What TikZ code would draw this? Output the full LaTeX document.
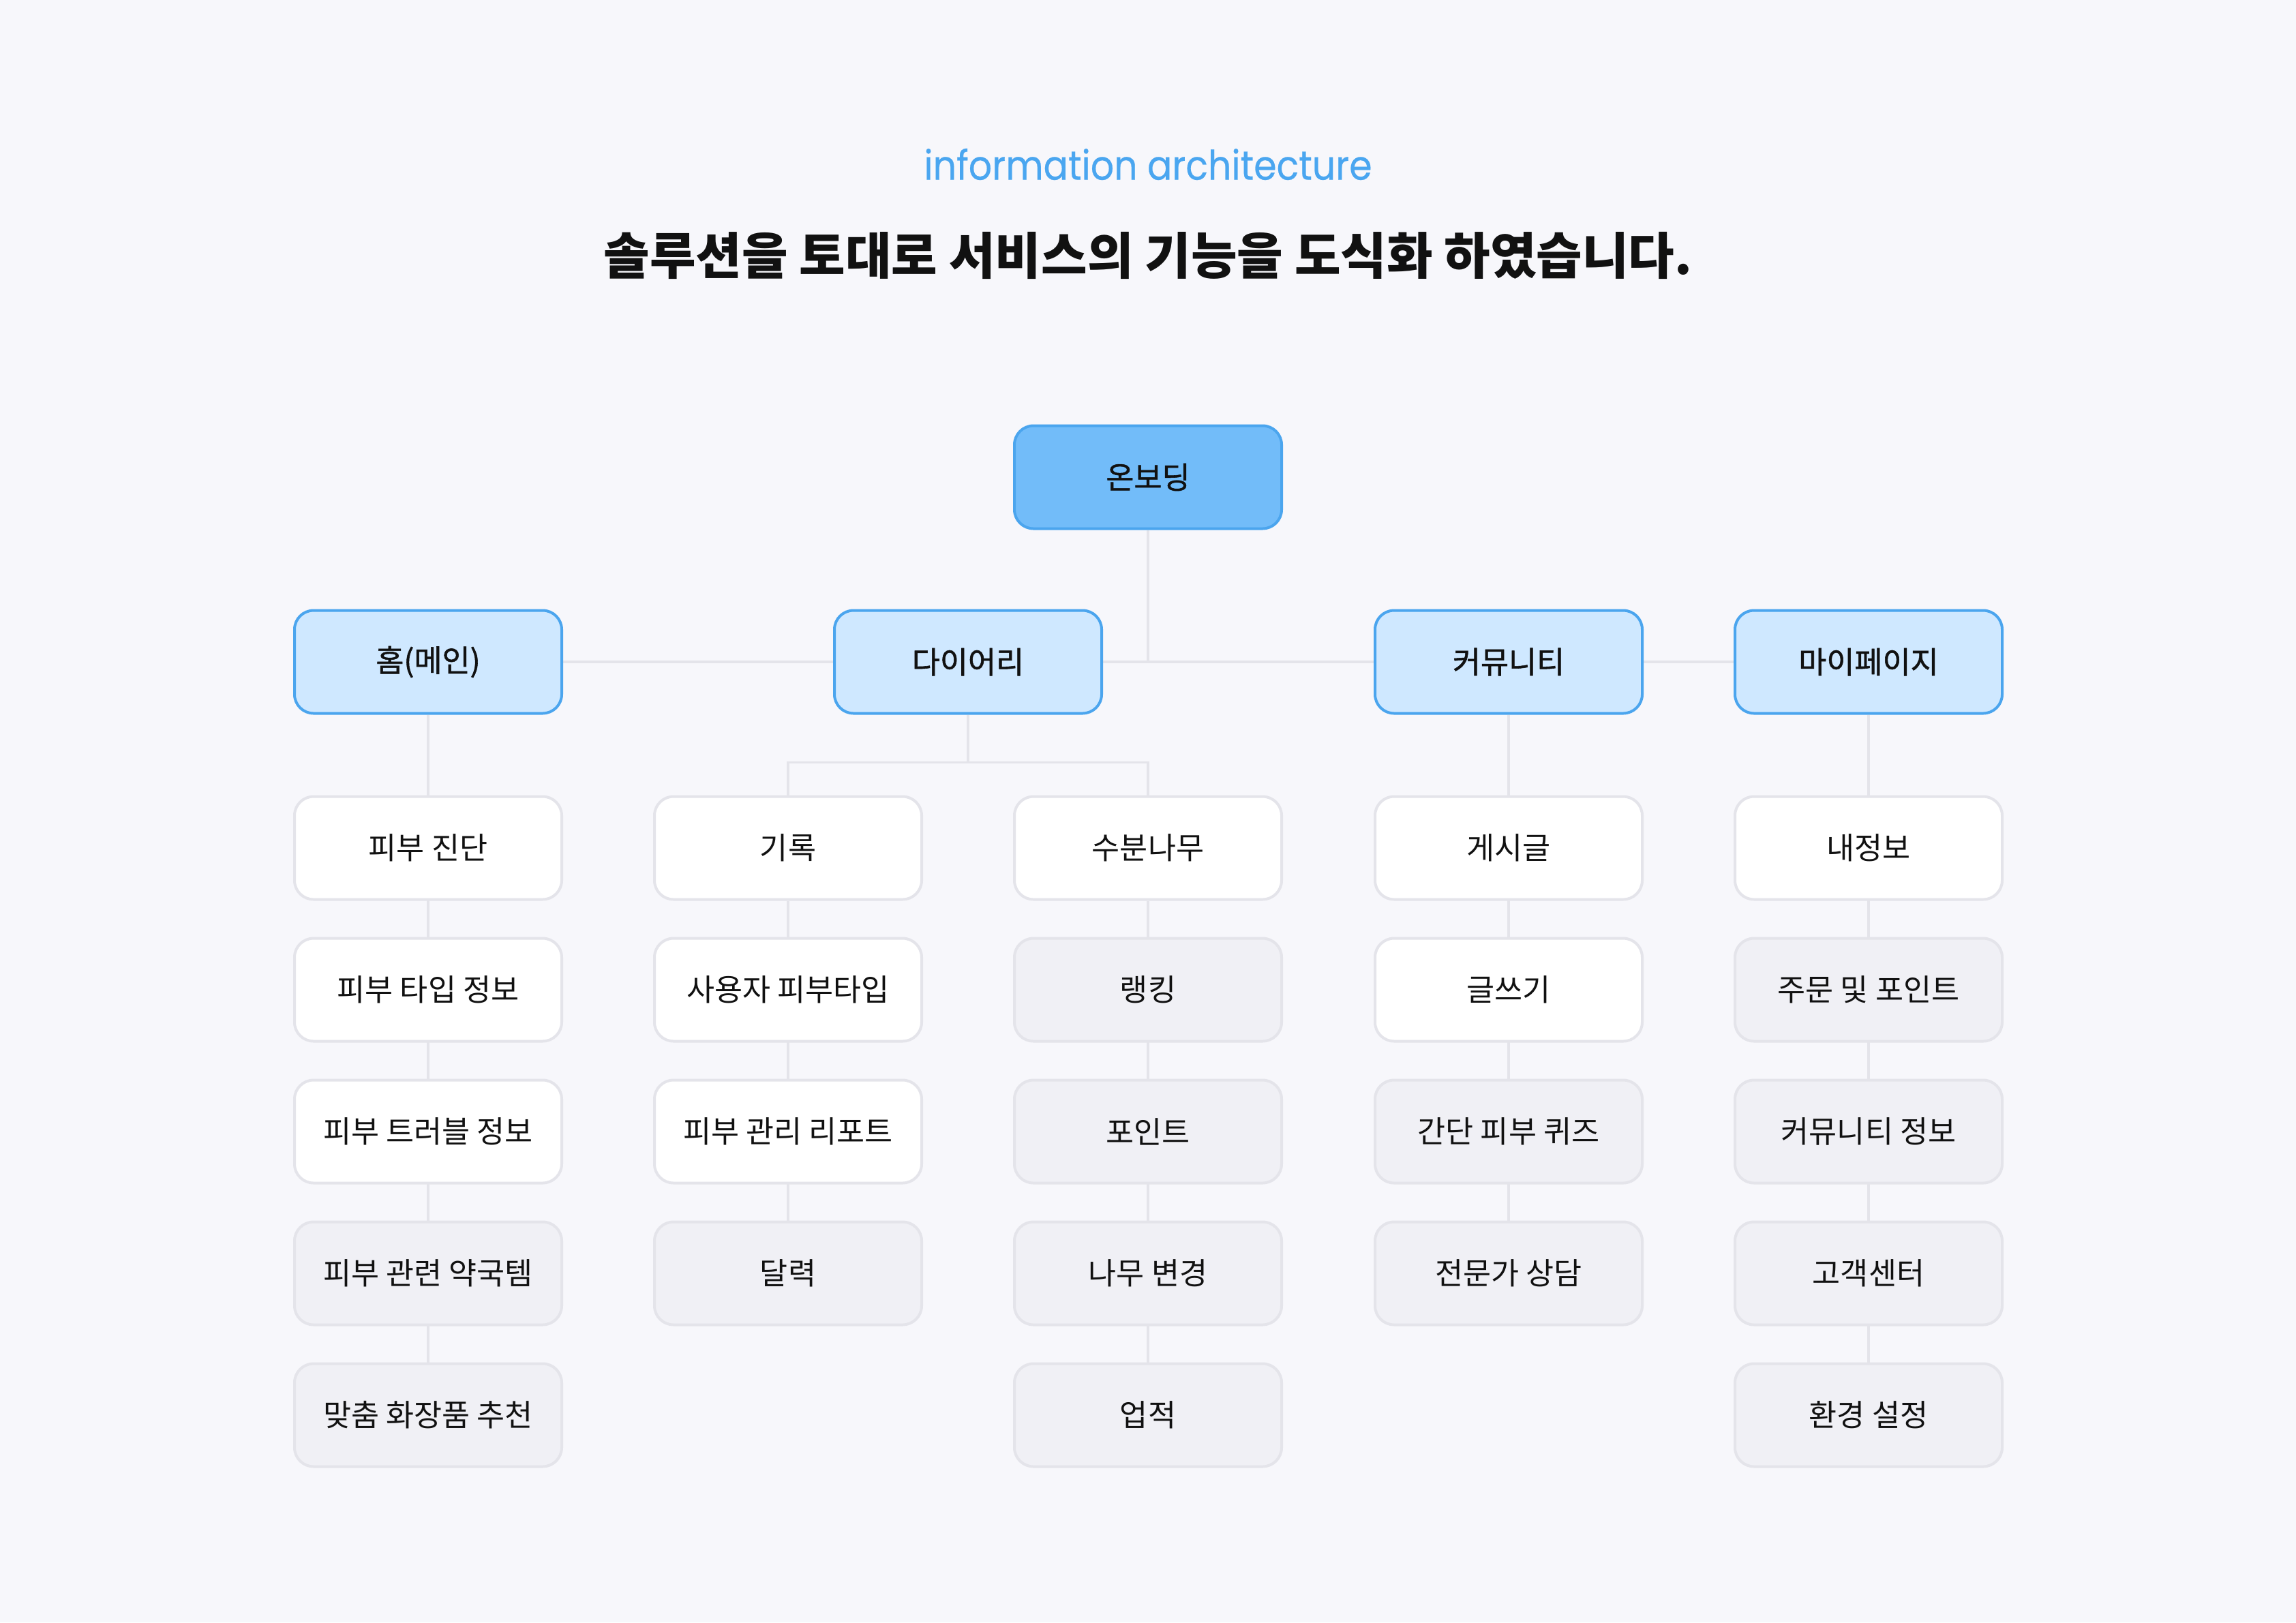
\documentclass[tikz,border=0pt]{standalone}
\usepackage{fontspec}
\setmainfont{Noto Sans CJK KR}
\newfontfamily\menufont{Noto Sans CJK KR}[FakeBold=1.2]
\newfontfamily\latinfont{Poppins}[FakeStretch=0.9, FakeBold=0.4]
\usetikzlibrary{positioning}
\pgfdeclarelayer{background}
\pgfsetlayers{background,main}

\begin{document}
\begin{tikzpicture}[node distance=0.53cm, font=\fontsize{12.7}{15}\selectfont, align=center, line width=0.04cm,
    box/.style={draw=linegray, rounded corners=0.28cm, minimum width=3.92cm, minimum height=1.51cm, inner sep=0pt, text=textblack},
    wbox/.style={box, fill=white},
    gbox/.style={box, fill=boxgray},
    menu/.style={box, draw=bluedge, fill=lightblue, font=\menufont\fontsize{12.7}{15}\selectfont},
    root/.style={menu, fill=midblue},
    link/.style={draw=linegray, line width=0.035cm}]
        % Define colors
        \definecolor{bgcol}{HTML}{F7F7FB}
        \definecolor{linegray}{HTML}{E4E4EA}
        \definecolor{boxgray}{HTML}{F0F0F5}
        \definecolor{lightblue}{HTML}{CFE8FF}
        \definecolor{midblue}{HTML}{72BCF9}
        \definecolor{bluedge}{HTML}{4BA5EE}
        \definecolor{titleblue}{HTML}{4AA6F0}
        \definecolor{textblack}{HTML}{111111}

        \useasboundingbox (0,0) rectangle (33.68,-23.80);

        % Titles
        \node[text=titleblue, font=\latinfont\fontsize{17}{20}\selectfont] (ia) at (16.84,-2.41) {information architecture};
        \node[text=textblack, font=\bfseries\fontsize{20.9}{24}\selectfont] (headline) at (16.84,-3.75) {솔루션을 토대로 서비스의 기능을 도식화 하였습니다.};

        % Nodes
        \node[root] (onb) at (16.84,-7.00) {온보딩};
        \node[menu] (home) at (6.28,-9.71) {홈(메인)};
        \node[menu] (diary) at (14.20,-9.71) {다이어리};
        \node[menu] (comm) at (22.13,-9.71) {커뮤니티};
        \node[menu] (mypage) at (27.41,-9.71) {마이페이지};

        \node[wbox, below=1.18cm of home] (home1) {피부 진단};
        \node[wbox, below=of home1] (home2) {피부 타입 정보};
        \node[wbox, below=of home2] (home3) {피부 트러블 정보};
        \node[gbox, below=of home3] (home4) {피부 관련 약국템};
        \node[gbox, below=of home4] (home5) {맞춤 화장품 추천};

        \node[wbox] (rec1) at (11.56,-12.44) {기록};
        \node[wbox, below=of rec1] (rec2) {사용자 피부타입};
        \node[wbox, below=of rec2] (rec3) {피부 관리 리포트};
        \node[gbox, below=of rec3] (rec4) {달력};

        \node[wbox] (tree1) at (16.84,-12.44) {수분나무};
        \node[gbox, below=of tree1] (tree2) {랭킹};
        \node[gbox, below=of tree2] (tree3) {포인트};
        \node[gbox, below=of tree3] (tree4) {나무 변경};
        \node[gbox, below=of tree4] (tree5) {업적};

        \node[wbox, below=1.18cm of comm] (post1) {게시글};
        \node[wbox, below=of post1] (post2) {글쓰기};
        \node[gbox, below=of post2] (post3) {간단 피부 퀴즈};
        \node[gbox, below=of post3] (post4) {전문가 상담};

        \node[wbox, below=1.18cm of mypage] (my1) {내정보};
        \node[gbox, below=of my1] (my2) {주문 및 포인트};
        \node[gbox, below=of my2] (my3) {커뮤니티 정보};
        \node[gbox, below=of my3] (my4) {고객센터};
        \node[gbox, below=of my4] (my5) {환경 설정};

        \coordinate[below=0.70cm of diary.south] (fork);
        \coordinate (hub) at (onb |- diary);

        % Edges
        \begin{pgfonlayer}{background}
            \fill[bgcol] (0,0) rectangle (33.68,-23.80);
            \draw[link] (home) -- (mypage);
            \draw[link] (onb) -- (hub);
            \draw[link] (diary) -- (fork);
            \draw[link] (fork) -| (rec1);
            \draw[link] (fork) -| (tree1);
            \draw[link] (home) -- (home5);
            \draw[link] (rec1) -- (rec4);
            \draw[link] (tree1) -- (tree5);
            \draw[link] (comm) -- (post4);
            \draw[link] (mypage) -- (my5);
        \end{pgfonlayer}
    \end{tikzpicture}
\end{document}
